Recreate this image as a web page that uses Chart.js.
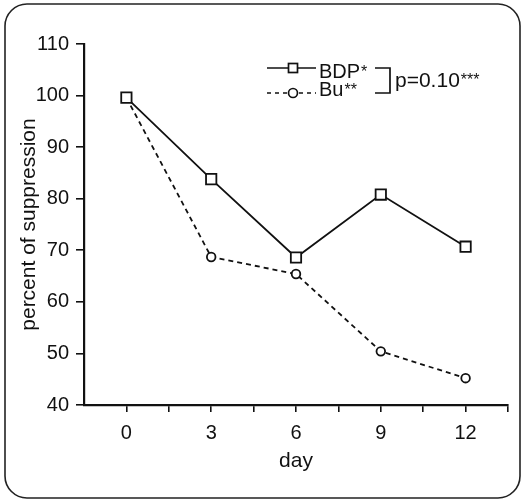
<!DOCTYPE html>
<html>
<head>
<meta charset="utf-8">
<script src="https://cdn.jsdelivr.net/npm/chart.js@4/dist/chart.umd.min.js"></script>
<style>
  html, body { margin: 0; padding: 0; background: #fff; }
  #wrap { width: 524px; height: 502px; }
</style>
</head>
<body>
<div id="wrap"><canvas id="suppChart"></canvas></div>
<script>
// values
const days = [0, 3, 6, 9, 12];
const bdp = [99.6, 83.8, 68.6, 80.8, 70.7];
const bu = [99.6, 68.7, 65.4, 50.4, 45.2];
const xLabelDays = [0, 3, 6, 9, 12];
const yLabels = [40, 50, 60, 70, 80, 90, 100, 110];

const FONT = "'Liberation Sans', Arial, Helvetica, sans-serif";
const INK = "#111";

function pts(ys) {
  return days.map((d, i) => ({ x: d, y: ys[i] }));
}

function supText(c, base, sup, x, y, size) {
  c.font = size + "px " + FONT;
  c.textBaseline = "middle";
  c.fillText(base, x, y);
  const w = c.measureText(base).width;
  c.font = "16px " + FONT;
  c.textBaseline = "top";
  c.fillText(sup, x + w + 1, y - size * 0.38);
}

// frame, legend and p-value bracket
const decor = {
  id: "decor",
  afterDraw(chart) {
    const c = chart.ctx;
    c.save();
    // rounded frame
    c.strokeStyle = "#222";
    c.lineWidth = 1.6;
    c.beginPath();
    c.roundRect(5, 4, 515, 494, 22);
    c.stroke();

    // legend rows
    c.lineWidth = 1.7;
    c.strokeStyle = INK;
    c.beginPath();
    c.moveTo(267, 68); c.lineTo(316, 68);
    c.stroke();
    c.setLineDash([4, 4]);
    c.beginPath();
    c.moveTo(267, 93); c.lineTo(316, 93);
    c.stroke();
    c.setLineDash([]);
    c.fillStyle = "#fff";
    c.fillRect(288.5, 63.5, 9, 9);
    c.strokeRect(288.5, 63.5, 9, 9);
    c.beginPath();
    c.arc(293, 93, 4.5, 0, Math.PI * 2);
    c.fill(); c.stroke();

    c.fillStyle = INK;
    c.textAlign = "left";
    supText(c, "BDP", "*", 319, 72, 20);
    supText(c, "Bu", "**", 319, 90, 20);

    // bracket
    c.beginPath();
    c.moveTo(375, 68); c.lineTo(390, 68); c.lineTo(390, 93); c.lineTo(375, 93);
    c.stroke();
    supText(c, "p=0.10", "***", 395, 81, 21);
    c.restore();
  }
};

new Chart(document.getElementById("suppChart"), {
  type: "line",
  data: {
    datasets: [
      {
        label: "BDP*",
        data: pts(bdp),
        borderColor: INK,
        borderWidth: 1.8,
        pointStyle: "rect",
        pointRadius: 7.3,
        pointBorderWidth: 1.8,
        pointBackgroundColor: "#fff",
        pointBorderColor: INK,
        fill: false
      },
      {
        label: "Bu**",
        data: pts(bu),
        borderColor: INK,
        borderWidth: 1.8,
        borderDash: [5, 4],
        pointStyle: "circle",
        pointRadius: 4.3,
        pointBorderWidth: 1.8,
        pointBackgroundColor: "#fff",
        pointBorderColor: INK,
        fill: false
      }
    ]
  },
  options: {
    responsive: true,
    maintainAspectRatio: false,
    animation: false,
    layout: { padding: { top: 44, right: 16, left: 0, bottom: 0 } },
    plugins: { legend: { display: false }, tooltip: { enabled: false } },
    scales: {
      x: {
        type: "linear",
        min: -1.5,
        max: 13.5,
        afterFit(s) { s.height = 97; },
        afterBuildTicks(s) {
          const t = [];
          for (let v = 0; v <= 13.5; v += 1.5) t.push({ value: v });
          s.ticks = t;
        },
        ticks: {
          color: INK,
          padding: 9,
          font: { family: FONT, size: 20 },
          maxRotation: 0,
          autoSkip: false,
          callback: v => (xLabelDays.includes(v) ? String(v) : "")
        },
        grid: { drawOnChartArea: false, drawTicks: true, tickLength: 7, color: INK, lineWidth: 1.6 },
        border: { display: true, color: INK, width: 2.2 },
        title: { display: true, text: "day", color: INK, font: { family: FONT, size: 21 }, padding: { bottom: 28 } }
      },
      y: {
        min: 40,
        max: 110,
        afterFit(s) { s.width = 84; },
        ticks: {
          stepSize: 5,
          color: INK,
          padding: 7,
          font: { family: FONT, size: 20 },
          callback: v => (yLabels.includes(v) ? String(v) : "")
        },
        grid: { drawOnChartArea: false, drawTicks: true, tickLength: 8, color: INK, lineWidth: 1.6 },
        border: { display: true, color: INK, width: 2.2 },
        title: { display: true, text: "percent of suppression", color: INK, font: { family: FONT, size: 21 }, padding: { top: 17 } }
      }
    }
  },
  plugins: [decor]
});
</script>
</body>
</html>
